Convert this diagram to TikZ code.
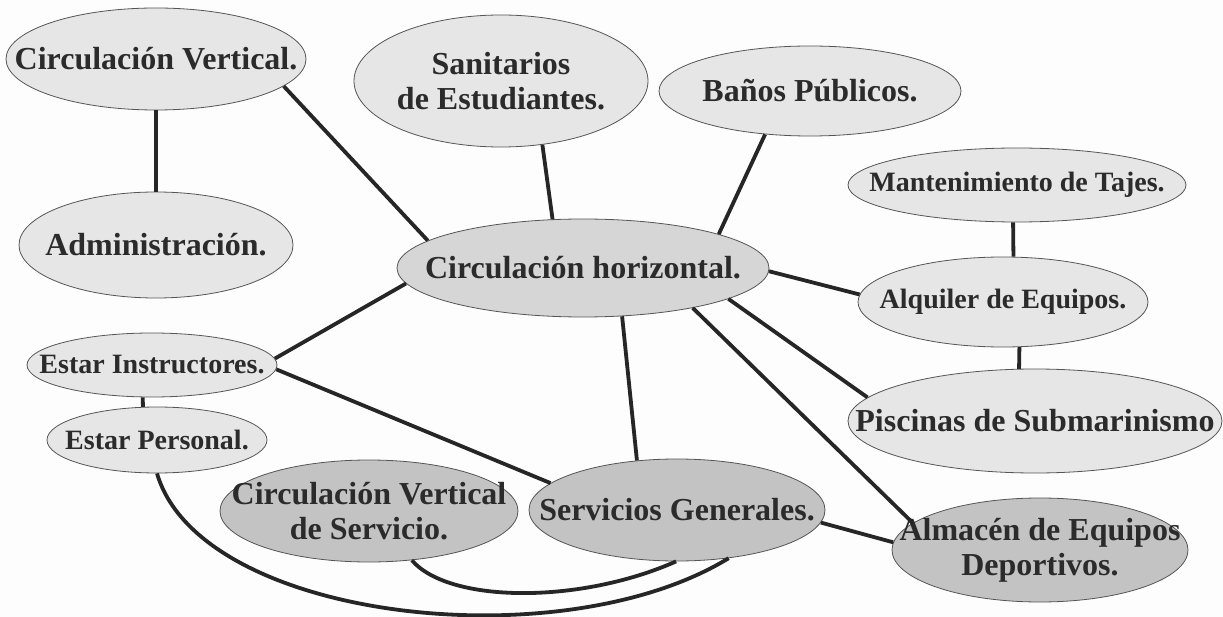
\documentclass[tikz,border=0pt]{standalone}
\usepackage{fontspec}
\setmainfont{Liberation Serif}
\usetikzlibrary{shapes.geometric}
\definecolor{bgwhite}{HTML}{FDFDFD}
\definecolor{lightfill}{HTML}{E6E6E6}
\definecolor{midfill}{HTML}{D6D6D6}
\definecolor{darkfill}{HTML}{C3C3C3}
\definecolor{rimgray}{HTML}{555555}
\definecolor{inkgray}{HTML}{2B2B2B}
\definecolor{linkgray}{HTML}{262626}
\tikzset{
  bubble/.style n args={2}{ellipse, draw=rimgray, line width=0.8pt, inner sep=0pt,
    minimum width=#1, minimum height=#2},
  bigtext/.style={align=center, text=inkgray, inner sep=0pt,
    font=\bfseries\fontsize{32}{35}\selectfont},
  smalltext/.style={align=center, text=inkgray, inner sep=0pt,
    font=\bfseries\fontsize{28}{31}\selectfont},
  big/.style={label={[bigtext]center:#1}},
  small/.style={label={[smalltext]center:#1}},
  light/.style={fill=lightfill},
  mid/.style={fill=midfill},
  dark/.style={fill=darkfill},
  link/.style={draw=linkgray, line width=3.8pt}
}
\begin{document}
\begin{tikzpicture}[x=1pt, y=-1pt]
  \fill[bgwhite] (0,0) rectangle (1223,617);
  \useasboundingbox (0,0) rectangle (1223,617);

  % rooms (the label carries the text so the ellipse keeps its own size)
  \node[bubble={300pt}{102pt}, light, big={Circulación Vertical.}] (cv)  at (156,59) {};
  \node[bubble={274pt}{106pt}, light, big={Administración.}] (adm) at (156,245) {};
  \node[bubble={294pt}{132pt}, light, big={Sanitarios\\de Estudiantes.}] (san) at (501,81) {};
  \node[bubble={302pt}{90pt},  light, big={Baños Públicos.}] (ban) at (810,91) {};
  \node[bubble={338pt}{74pt},  light, small={Mantenimiento de Tajes.}] (man) at (1017,185) {};
  \node[bubble={290pt}{90pt},  light, small={Alquiler de Equipos.}] (alq) at (1003,302) {};
  \node[bubble={374pt}{104pt}, light, big={Piscinas de Submarinismo}] (pis) at (1035,421) {};
  \node[bubble={296pt}{104pt}, dark,  big={Almacén de Equipos\\Deportivos.}] (alm) at (1040,550) {};
  \node[bubble={372pt}{98pt},  mid,   big={Circulación horizontal.}] (ch) at (583,268) {};
  \node[bubble={296pt}{102pt}, dark,  big={Servicios Generales.}] (sg) at (677,510) {};
  \node[bubble={298pt}{102pt}, dark,  big={Circulación Vertical\\de Servicio.}] (cvs) at (369,511) {};
  \node[bubble={250pt}{64pt},  light, small={Estar Instructores.}] (ei) at (152,365) {};
  \node[bubble={220pt}{66pt},  light, small={Estar Personal.}] (ep) at (157,440) {};

  % straight links, border to border
  \path[link] (cv.south) -- (adm.north);
  \path[link] (cv.-12) -- (ch.170);
  \path[link] (san.-57) -- (ch.122);
  \path[link] (ban.-136) -- (ch.14);
  \path[link] (man.-96) -- (alq.77);
  \path[link] (alq.-70) -- (pis.107);
  \path[link] (ch.-1.5) -- (alq.177);
  \path[link] (ch.-12.4) -- (pis.172);
  \path[link] (ch.-20) -- (alm.168);
  \path[link] (ch.-51.5) -- (sg.129.5);
  \path[link] (ch.-175) -- (ei.3.3);
  \path[link] (ei.-2.3) -- (sg.168);
  \path[link] (ei.-106) -- (ep.113);
  \path[link] (sg.-5) -- (alm.177);

  % curved links along the bottom
  \path[link] (cvs.-49) .. controls +(37,43) and +(-97,43) .. (sg.-91);
  \path[link] (ep.south) .. controls +(43,147) and +(-168,103) .. (sg.-43);
\end{tikzpicture}
\end{document}
